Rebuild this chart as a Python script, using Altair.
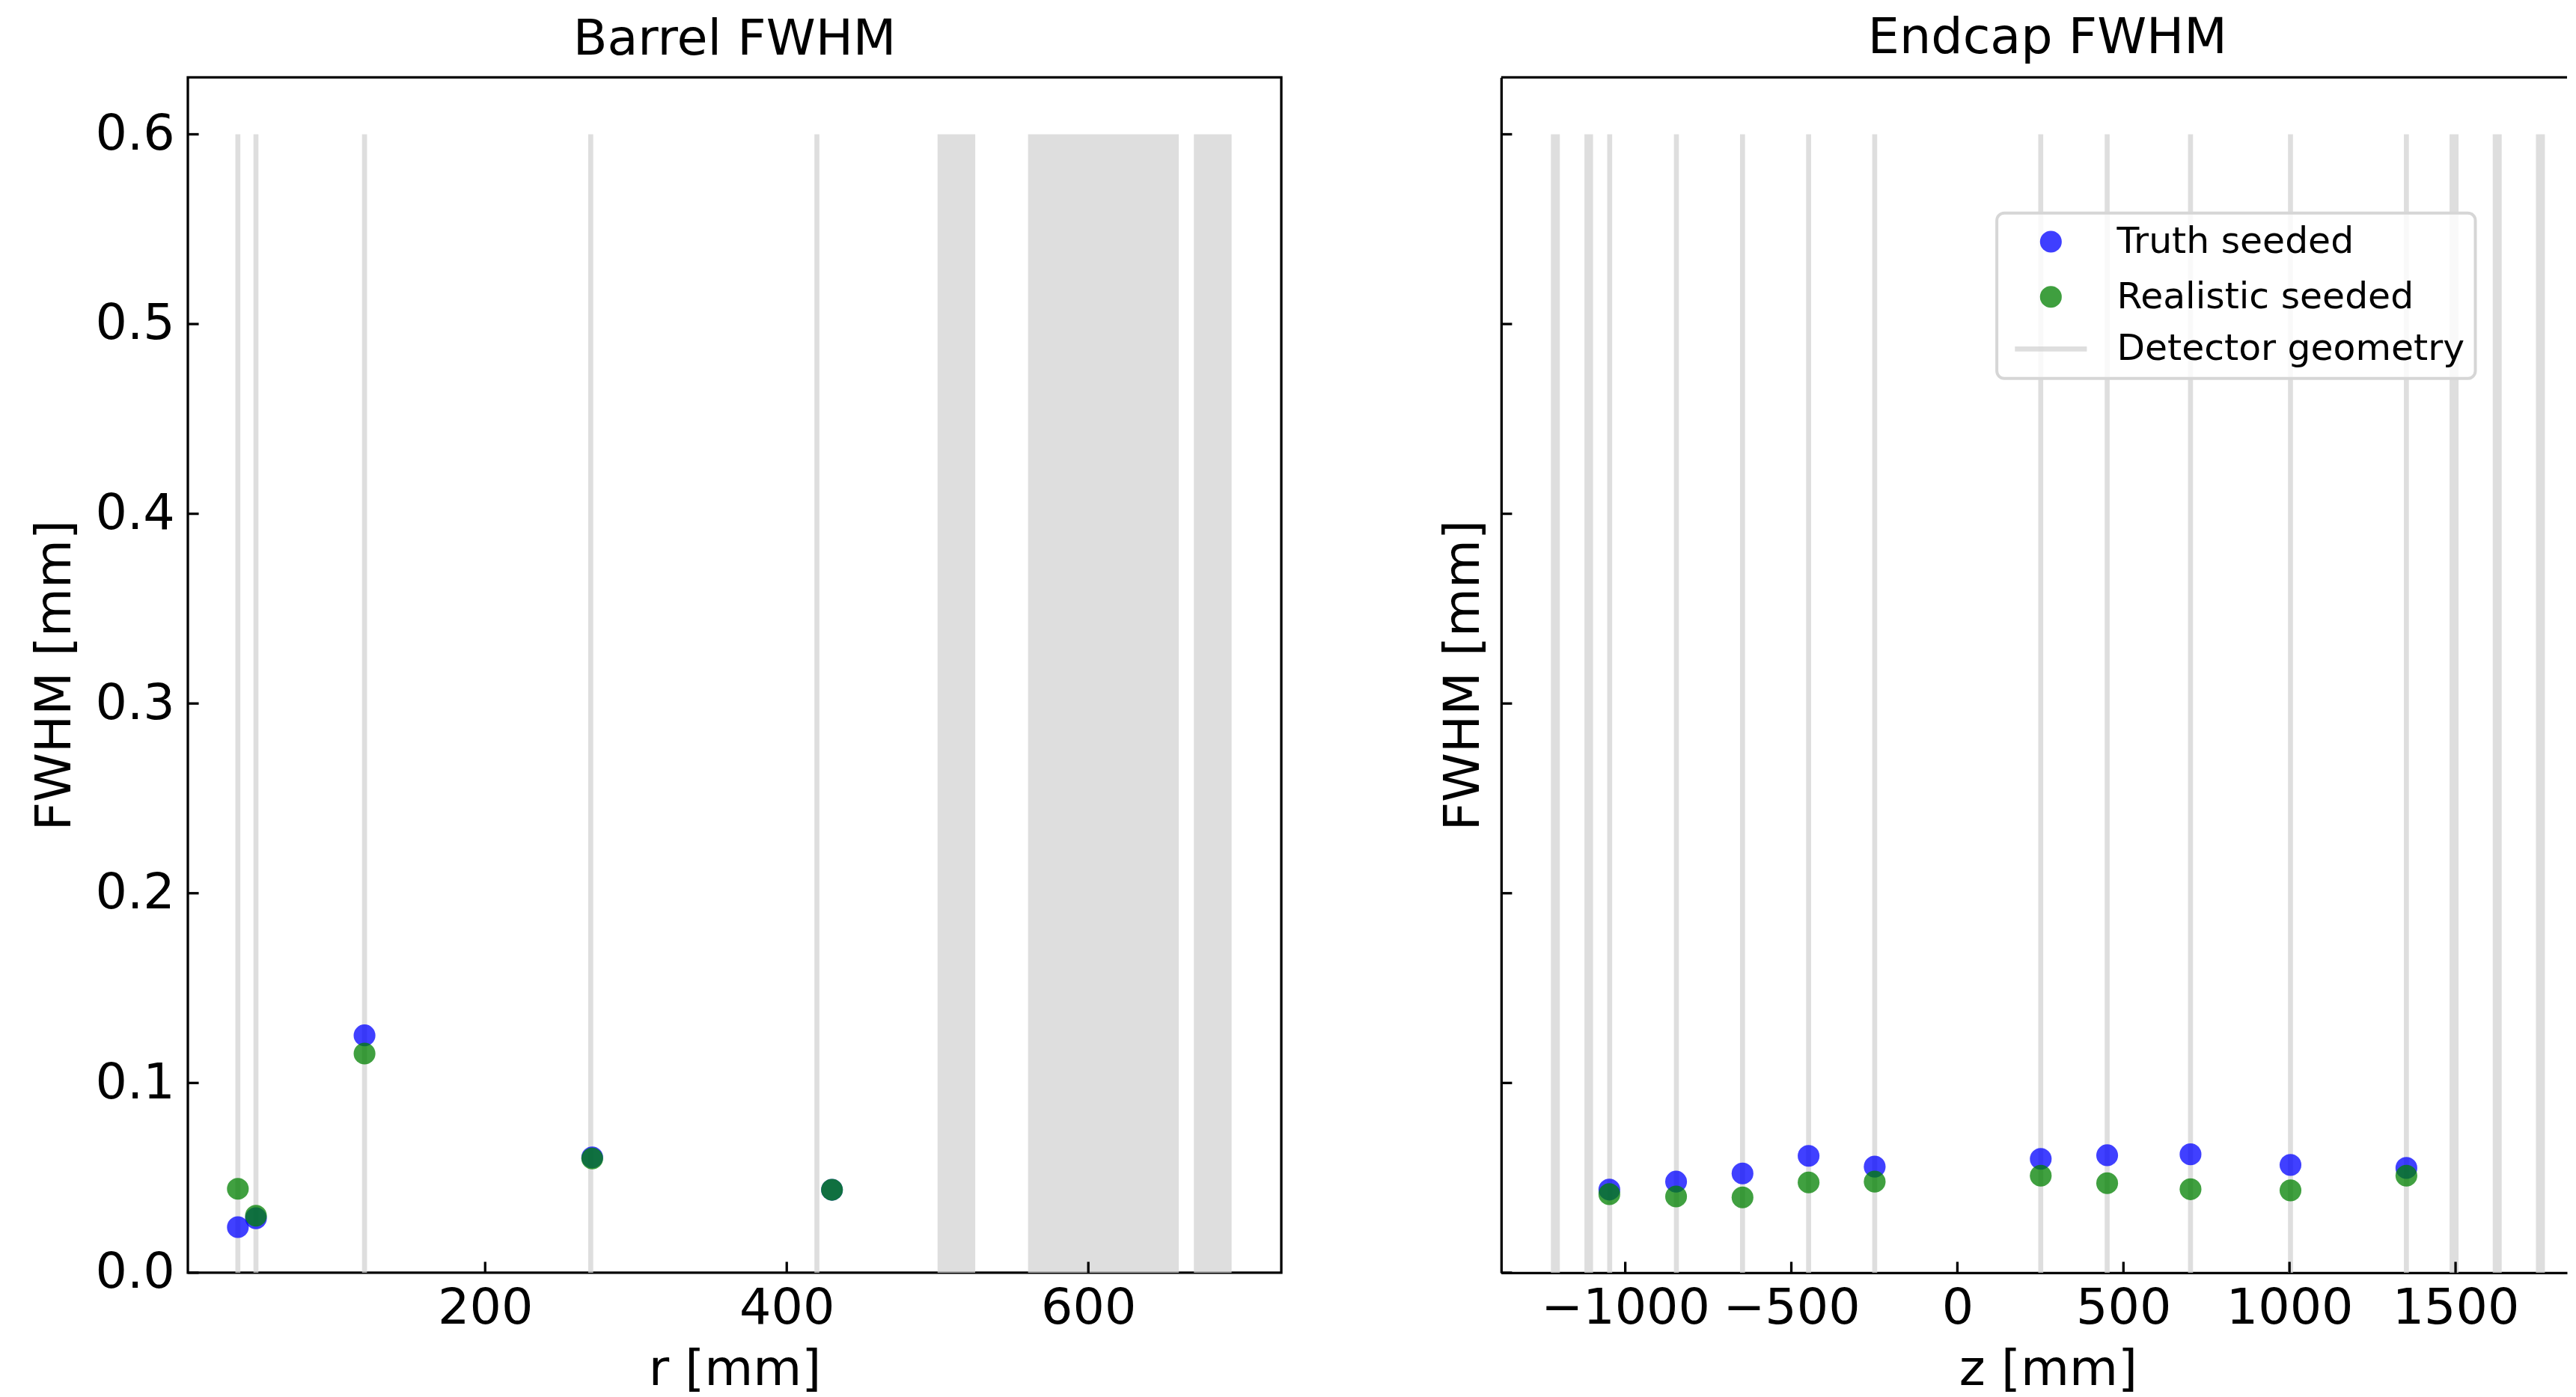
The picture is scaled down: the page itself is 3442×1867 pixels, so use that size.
import altair as alt
import pandas as pd

FONT = "DejaVu Sans"

# ---- legend / series ----
SERIES = ["Truth seeded", "Realistic seeded", "Detector geometry"]
FILL_COLORS = ["blue", "green", "transparent"]
STROKE_COLORS = ["transparent", "transparent", "lightgray"]
GEOM_COLOR = STROKE_COLORS[2]
LINE_SHAPE = "M-3.3,0H3.3"

# ---- Barrel panel data ----
BARREL_R = [36, 48, 120, 271, 430]
BARREL_TRUTH = [0.0240, 0.0287, 0.1251, 0.0608, 0.0437]
BARREL_REAL = [0.0442, 0.0300, 0.1155, 0.0602, 0.0437]
BARREL_GEOM_LINES = [36, 48, 120, 270, 420]
BARREL_BAND_START = [500, 560, 670]
BARREL_BAND_END = [525, 660, 695]
BARREL_X_TICKS = [200, 400, 600]
BARREL_X_DOMAIN = [2.84, 727.96]

# ---- Endcap panel data ----
ENDCAP_Z = [-1048, -847, -647, -448, -249, 251, 451, 702, 1003, 1352]
ENDCAP_TRUTH = [0.0438, 0.0480, 0.0523, 0.0616, 0.0559, 0.0600, 0.0619, 0.0624, 0.0568, 0.0552]
ENDCAP_REAL = [0.0414, 0.0402, 0.0397, 0.0476, 0.0480, 0.0511, 0.0472, 0.0440, 0.0434, 0.0511]
ENDCAP_GEOM_LINES = [-1047, -846, -647, -448, -249, 251, 451, 702, 1003, 1352]
ENDCAP_BAND_START = [-1224, -1123, 1482, 1612, 1742]
ENDCAP_BAND_END = [-1197, -1097, 1509, 1639, 1769]
ENDCAP_X_TICKS = [-1000, -500, 0, 500, 1000, 1500]
ENDCAP_X_DOMAIN = [-1373.7, 1835.7]   # the figure is cut at the right edge here

Y_TICKS = [0.0, 0.1, 0.2, 0.3, 0.4, 0.5, 0.6]
GEOM_Y_TOP = 0.6
Y_DOMAIN = [0, 0.63]

PLOT_H = 1604
BARREL_W = 1467
ENDCAP_W = 1430
FS = 67
TICK_LEN = 14.6
AX_LW = 3.3
ALPHA = 0.75


def make_legend():
    return alt.Legend(
        title=None, orient="none", legendX=665, legendY=182,
        labelFontSize=49, labelFont=FONT, labelColor="black", labelLimit=1000,
        symbolSize=855, symbolOffset=34, labelOffset=64, rowPadding=17,
        padding=14, strokeColor="#d6d6d6", fillColor="rgba(255,255,255,0.8)",
        cornerRadius=10, symbolFillColor="transparent", symbolStrokeColor="transparent",
        symbolStrokeWidth=6.7, symbolOpacity=ALPHA,
    )


def panel(title_text, title_dx, xs, truth, real, lines, b0, b1, xticks, xdomain,
          width, xtitle, left_panel):
    xscale = alt.Scale(domain=xdomain, nice=False, zero=False)
    yscale = alt.Scale(domain=Y_DOMAIN, nice=False, zero=False)
    common = dict(ticks=False, tickSize=0, grid=False, labelLimit=1000,
                  labelOverlap=False, labelFlush=False)
    if left_panel:
        yaxis = alt.Axis(values=Y_TICKS, format=".1f", domain=False,
                         labelPadding=18, titlePadding=20, **common)
        xaxis = alt.Axis(values=xticks, format="d", domain=False,
                         labelPadding=15, titlePadding=16, **common)
        leg = None
    else:
        yaxis = alt.Axis(values=Y_TICKS, labels=False, domain=True, domainColor="black",
                         domainWidth=AX_LW, titlePadding=16, **common)
        xaxis = alt.Axis(values=xticks, format="d", domain=True, domainColor="black",
                         domainWidth=AX_LW, labelPadding=15, titlePadding=16,
                         titleX=733.5, **common)
        leg = make_legend()

    X = alt.X("x:Q", scale=xscale, axis=xaxis, title=xtitle)

    def Y(field):
        return alt.Y(field, type="quantitative", scale=yscale, axis=yaxis, title="FWHM [mm]")

    stroke_scale = alt.Scale(domain=SERIES, range=STROKE_COLORS)
    fill_scale = alt.Scale(domain=SERIES, range=FILL_COLORS)
    shape_scale = alt.Scale(domain=SERIES, range=["circle", "circle", LINE_SHAPE])

    lines_df = pd.DataFrame({"x": lines, "y0": 0.0, "y1": GEOM_Y_TOP})
    bands_df = pd.DataFrame({"x": b0, "x2": b1, "y0": 0.0, "y1": GEOM_Y_TOP})
    pts_df = pd.DataFrame({
        "x": list(xs) + list(xs),
        "y": list(truth) + list(real),
        "series": [SERIES[0]] * len(xs) + [SERIES[1]] * len(xs),
    })
    xt_df = pd.DataFrame({"x": xticks})
    yt_df = pd.DataFrame({"y": Y_TICKS})

    bands = alt.Chart(bands_df).mark_rect(opacity=ALPHA, color=GEOM_COLOR).encode(
        x=X, x2="x2:Q", y=Y("y0"), y2="y1:Q")
    rules = alt.Chart(lines_df).mark_rule(strokeWidth=6.7, opacity=ALPHA, color=GEOM_COLOR).encode(
        x=X, y=Y("y0"), y2="y1:Q")
    points = alt.Chart(pts_df).mark_point(filled=False, size=855, opacity=ALPHA, strokeWidth=0).encode(
        x=X, y=Y("y"),
        color=alt.Color("series:N", scale=stroke_scale, legend=leg),
        fill=alt.Fill("series:N", scale=fill_scale, legend=leg),
        shape=alt.Shape("series:N", scale=shape_scale, legend=leg))
    xtick_rules = alt.Chart(xt_df).mark_rule(color="black", strokeWidth=AX_LW).encode(
        x=X, y=alt.value(PLOT_H), y2=alt.value(PLOT_H - TICK_LEN))
    ytick_rules = alt.Chart(yt_df).mark_rule(color="black", strokeWidth=AX_LW).encode(
        y=Y("y"), x=alt.value(0), x2=alt.value(TICK_LEN))

    layers = [bands, rules, points, xtick_rules, ytick_rules]
    if not left_panel:
        top = alt.Chart(pd.DataFrame({"a": [0]})).mark_rule(color="black", strokeWidth=AX_LW).encode(
            x=alt.value(0), x2=alt.value(width), y=alt.value(0))
        layers.append(top)

    title = alt.TitleParams(text=title_text, fontSize=FS, font=FONT, fontWeight="normal",
                            color="black", offset=17, anchor="middle", dx=title_dx)
    ch = alt.layer(*layers).properties(width=width, height=PLOT_H, title=title)
    if not left_panel:
        ch = ch.properties(view=alt.ViewBackground(stroke="transparent"))
    return ch


left = panel("Barrel FWHM", 0, BARREL_R, BARREL_TRUTH, BARREL_REAL, BARREL_GEOM_LINES,
             BARREL_BAND_START, BARREL_BAND_END, BARREL_X_TICKS, BARREL_X_DOMAIN,
             BARREL_W, "r [mm]", True)
right = panel("Endcap FWHM", 18, ENDCAP_Z, ENDCAP_TRUTH, ENDCAP_REAL, ENDCAP_GEOM_LINES,
              ENDCAP_BAND_START, ENDCAP_BAND_END, ENDCAP_X_TICKS, ENDCAP_X_DOMAIN,
              ENDCAP_W, "z [mm]", False)

chart = (
    alt.hconcat(left, right, spacing=207)
    .resolve_scale(color="independent", fill="independent", shape="independent")
    .properties(padding={"left": 29, "top": 3, "right": 0, "bottom": 0})
    .configure_view(stroke="black", strokeWidth=AX_LW)
    .configure_axis(labelFont=FONT, titleFont=FONT, labelFontSize=FS, titleFontSize=FS,
                    labelColor="black", titleColor="black", titleFontWeight="normal")
    .configure_legend(strokeWidth=4)
)

chart.save("out.html", embed_options={"renderer": "svg", "actions": False})
